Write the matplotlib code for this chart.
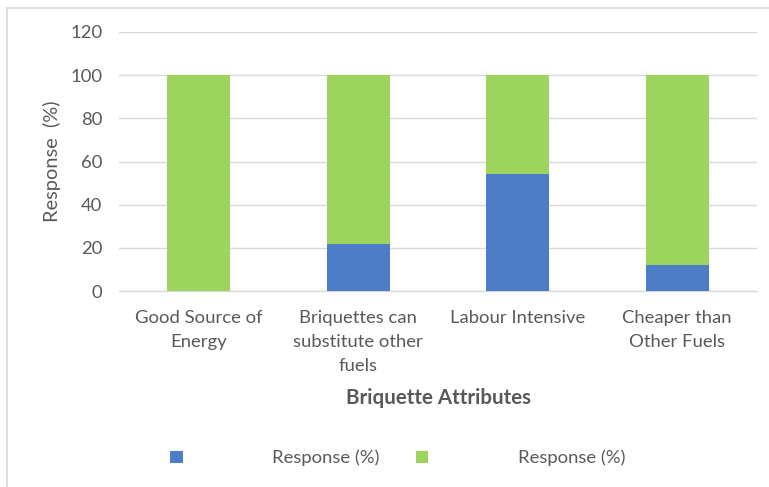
import matplotlib
matplotlib.use("Agg")
import matplotlib.pyplot as plt
from matplotlib.patches import Patch
from matplotlib.lines import Line2D
import numpy as np

categories = ["Good Source of\nEnergy", "Briquettes can\nsubstitute other\nfuels",
              "Labour Intensive", "Cheaper than\nOther Fuels"]
blue_vals = [0, 22, 54, 12]
green_vals = [100, 78, 46, 88]
series_labels = ["Response (%)", "Response (%)"]
yticks = [0, 20, 40, 60, 80, 100, 120]

BLUE = "#4E7DC8"
GREEN = "#9DD45D"
TXT = "#595959"
GRID = "#D9D9D9"

plt.rcParams['font.family'] = ['Lato', 'DejaVu Sans']

fig = plt.figure(figsize=(7.69, 4.87), dpi=100)
ax = fig.add_axes([119/769, 1-291/487, (757-119)/769, (291-32)/487])

x = np.arange(len(categories))
w = 0.395
ax.bar(x, blue_vals, w, color=BLUE, label=series_labels[0], zorder=3)
ax.bar(x, green_vals, w, bottom=blue_vals, color=GREEN, label=series_labels[1], zorder=3)

ax.set_xlim(-0.5, len(categories) - 0.5)
ax.set_ylim(0, 120)
ax.set_yticks(yticks)
ax.set_yticklabels([str(t) for t in yticks], fontsize=13.3, color=TXT)
ax.set_xticks(x)
ax.set_xticklabels(categories, fontsize=13.3, color=TXT, linespacing=1.6, va='top')
ax.tick_params(axis='both', length=0)
ax.tick_params(axis='y', pad=12)
ax.tick_params(axis='x', pad=14)
ax.grid(axis='y', color=GRID, linewidth=1, zorder=0)
for s in ['top', 'right', 'left']:
    ax.spines[s].set_visible(False)
ax.spines['bottom'].set_color(GRID)
ax.spines['bottom'].set_linewidth(1)

ax.set_ylabel("Response  (%)", fontsize=14.4, color=TXT)
ax.yaxis.set_label_coords((61 - 119) / (757 - 119), 0.5)
fig.text(438/769, 1-398/487, "Briquette Attributes", fontsize=14.8, fontweight='bold',
         color=TXT, ha='center', va='center')

handles = [Patch(facecolor=BLUE, edgecolor='none'), Patch(facecolor=GREEN, edgecolor='none')]
fig.legend(handles, series_labels, loc='center', bbox_to_anchor=(398/769, 1-458/487),
           ncol=2, frameon=False, fontsize=13.3, handlelength=0.66, handleheight=0.66,
           handletextpad=4.85, columnspacing=1.98, labelcolor=TXT)

# outer chart border (top and left)
fig.add_artist(Line2D([7/769, 1], [1-8/487, 1-8/487], transform=fig.transFigure,
                      color=GRID, linewidth=1.2))
fig.add_artist(Line2D([7/769, 7/769], [0, 1-8/487], transform=fig.transFigure,
                      color=GRID, linewidth=1.2))

fig.savefig("out.png", dpi=100, facecolor='white')
